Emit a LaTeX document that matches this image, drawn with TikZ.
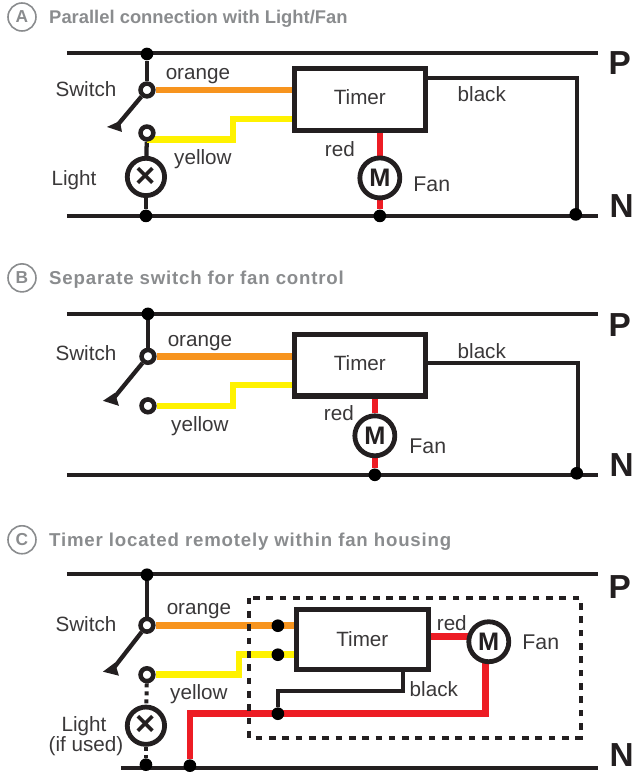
\documentclass[tikz,border=0pt]{standalone}
\usepackage{fontspec}
\setmainfont{Liberation Sans}
\usetikzlibrary{backgrounds,calc}
\definecolor{wireBlack}{HTML}{231F20}
\definecolor{wireOrange}{HTML}{F7941E}
\definecolor{wireYellow}{HTML}{FFF200}
\definecolor{wireRed}{HTML}{ED1C24}
\definecolor{headGray}{HTML}{8A8C8E}
\definecolor{textGray}{HTML}{3A3839}

\begin{document}
\begin{tikzpicture}[x=0.75pt,y=-0.75pt]
      \tikzstyle{every node} = [font=\fontsize{15.5}{18}\selectfont, text=textGray, inner sep=0pt]
      \tikzstyle{heading} = [font=\bfseries\fontsize{13.8}{15}\selectfont, text=headGray, anchor=west]
      \tikzstyle{headingwide} = [font=\bfseries\fontsize{14}{15}\selectfont\addfontfeature{LetterSpace=4.3}, text=headGray, anchor=west]
      \tikzstyle{badge} = [draw=headGray, circle, line width=1.2pt, minimum size=21pt, font=\bfseries\fontsize{13}{14}\selectfont, text=headGray]
      \tikzstyle{rail} = [draw=wireBlack, line width=3.2pt]
      \tikzstyle{blackwire} = [draw=wireBlack, line width=3.2pt]
      \tikzstyle{orangewire} = [draw=wireOrange, line width=5pt]
      \tikzstyle{yellowwire} = [draw=wireYellow, line width=5pt]
      \tikzstyle{redwire} = [draw=wireRed, line width=5pt]
      \tikzstyle{dot} = [fill=black, circle, minimum size=9.5pt]
      \tikzstyle{terminal} = [draw=wireBlack, fill=white, circle, line width=3.4pt, minimum size=9.6pt]
      \tikzstyle{lamp} = [draw=wireBlack, fill=white, circle, line width=3.6pt, minimum size=28pt, font=\bfseries\fontsize{26}{26}\selectfont, text=wireBlack]
      \tikzstyle{motor} = [draw=wireBlack, fill=white, circle, line width=3.6pt, minimum size=30pt, font=\bfseries\fontsize{19}{19}\selectfont, text=wireBlack]
      \tikzstyle{timer} = [draw=wireBlack, fill=white, rectangle, line width=3.8pt, minimum width=98.6pt, minimum height=46pt, text depth=3pt]
      \tikzstyle{supply} = [font=\bfseries\fontsize{25}{25}\selectfont, text=wireBlack]
      \tikzstyle{fantext} = [font=\fontsize{16}{18}\selectfont]
      \tikzstyle{lever} = [draw=wireBlack, line width=3.2pt]
      \tikzstyle{barb} = [fill=wireBlack]
      \tikzstyle{housing} = [draw=wireBlack, line width=3pt, dash pattern=on 5pt off 5pt]
      \tikzstyle{ifused} = [draw=wireBlack, line width=3pt, dash pattern=on 3pt off 3pt]
      % Panel A
      \node[badge](badgeA) at (22,17){A};
      \node[heading](headA) at (49,19){Parallel connection with Light/Fan};
      \coordinate (railPAw) at (67,53);
      \coordinate (railPAe) at (598,53);
      \coordinate (railNAw) at (67,216);
      \coordinate (railNAe) at (598,216);
      \node[dot](dotPA) at (147,54){};
      \node[dot](dotLightA) at (146,216){};
      \node[dot](dotFanA) at (380,216){};
      \node[dot](dotBlackA) at (576,214.5){};
      \node[terminal](swTopA) at (147,90){};
      \node[terminal](swLowA) at (147,133){};
      \node[lamp](lightA) at (146,177){×};
      \node[timer](timerA) at (360,99.5){Timer};
      \node[motor](fanA) at (380,178){M};
      \coordinate (kneeYellowA) at (233,119);
      \coordinate (kneeBlackA) at (577,78);
      \coordinate (leverEndA) at (116,127);
      \node[supply](supplyPA) at (620,63){P};
      \node[supply](supplyNA) at (622,206){N};
      \node(switchTextA) at (86,89){Switch};
      \node(lightTextA) at (74,180){Light};
      \node(orangeTextA) at (198,76){orange};
      \node(yellowTextA) at (203,159){yellow};
      \node(blackTextA) at (482,94){black};
      \node(redTextA) at (340,149){red};
      \node[fantext](fanTextA) at (432,184){Fan};
      % Connections
      \begin{pgfonlayer}{background}
        \path[rail] (railPAw) -- (railPAe);
        \path[rail] (railNAw) -- (railNAe);
        \path[blackwire] (dotPA) -- (swTopA);
        \path[blackwire] (swLowA) -- (lightA);
        \path[blackwire] (lightA) -- (dotLightA);
        \path[orangewire] (swTopA) -- (swTopA -| timerA.west);
        \path[yellowwire] (swLowA.center) ++(0,6.5) -| (kneeYellowA) -- (kneeYellowA -| timerA.west);
        \path[blackwire] (kneeBlackA -| timerA.east) -- (kneeBlackA) -- (kneeBlackA |- dotBlackA);
        \path[redwire] (fanA) -- (fanA |- timerA.south);
        \path[redwire] (fanA) -- (dotFanA);
      \end{pgfonlayer}
      \path[lever] (swTopA) -- (leverEndA);
      \fill[barb] (leverEndA) ++(-9,0) -- ++(13,-6) -- ++(2,11) -- cycle;
      % Panel B
      \node[badge](badgeB) at (22,278){B};
      \node[headingwide](headB) at (49,280){Separate switch for fan control};
      \coordinate (railPBw) at (67,314);
      \coordinate (railPBe) at (598,314);
      \coordinate (railNBw) at (67,475);
      \coordinate (railNBe) at (598,475);
      \node[dot](dotPB) at (148,314){};
      \node[dot](dotFanB) at (375,475){};
      \node[dot](dotBlackB) at (577,473.5){};
      \node[terminal](swTopB) at (148,356.5){};
      \node[terminal](swLowB) at (148,406){};
      \node[timer](timerB) at (360,365.5){Timer};
      \node[motor](fanB) at (375,436){M};
      \coordinate (kneeYellowB) at (233,385);
      \coordinate (kneeBlackB) at (578,363);
      \coordinate (leverEndB) at (114,398);
      \node[supply](supplyPB) at (620,325){P};
      \node[supply](supplyNB) at (622,465){N};
      \node(switchTextB) at (86,353){Switch};
      \node(orangeTextB) at (200,343){orange};
      \node(yellowTextB) at (200,426){yellow};
      \node(blackTextB) at (482,351){black};
      \node(redTextB) at (339,413){red};
      \node[fantext](fanTextB) at (428,446){Fan};
      % Connections
      \begin{pgfonlayer}{background}
        \path[rail] (railPBw) -- (railPBe);
        \path[rail] (railNBw) -- (railNBe);
        \path[blackwire] (dotPB) -- (swTopB);
        \path[orangewire] (swTopB) -- (swTopB -| timerB.west);
        \path[yellowwire] (swLowB) -| (kneeYellowB) -- (kneeYellowB -| timerB.west);
        \path[blackwire] (kneeBlackB -| timerB.east) -- (kneeBlackB) -- (kneeBlackB |- dotBlackB);
        \path[redwire] (fanB) -- (fanB |- timerB.south);
        \path[redwire] (fanB) -- (dotFanB);
      \end{pgfonlayer}
      \path[lever] (swTopB) -- (leverEndB);
      \fill[barb] (leverEndB) ++(-11,3) -- ++(12,-8) -- ++(4,13) -- cycle;
      % Panel C
      \node[badge](badgeC) at (22,540){C};
      \node[headingwide](headC) at (49,542){Timer located remotely within fan housing};
      \coordinate (railPCw) at (67,574);
      \coordinate (railPCe) at (598,574);
      \coordinate (railNCw) at (121,768);
      \coordinate (railNCe) at (598,768);
      \coordinate (housingNW) at (249,598);
      \coordinate (housingSE) at (581,738);
      \node[dot](dotPC) at (147,575){};
      \node[dot](dotLightC) at (146,765){};
      \node[dot](dotNeutralC) at (190,766){};
      \node[dot](dotOrangeC) at (278,626){};
      \node[dot](dotYellowC) at (278,655){};
      \node[dot](dotJoinC) at (278,714){};
      \node[terminal](swTopC) at (147,625.5){};
      \node[terminal](swLowC) at (147,675){};
      \node[lamp](lightC) at (146,726){×};
      \node[timer, minimum width=99pt, minimum height=45pt, text depth=0pt](timerC) at (362.5,639.5){Timer};
      \node[motor](fanC) at (489,642){M};
      \coordinate (kneeYellowC) at (239,655);
      \coordinate (kneeBlackC) at (403,691);
      \coordinate (kneeRedC) at (486,714);
      \coordinate (kneeNeutralC) at (190,714);
      \coordinate (redOutC) at (429,637);
      \coordinate (leverEndC) at (114,668);
      \node[supply](supplyPC) at (620,587){P};
      \node[supply](supplyNC) at (622,755){N};
      \node(switchTextC) at (86,624){Switch};
      \node(lightTextC) at (84,726){Light};
      \node(ifusedTextC) at (86,746){(if used)};
      \node(orangeTextC) at (199,611){orange};
      \node(yellowTextC) at (199,694){yellow};
      \node(blackTextC) at (434,689){black};
      \node(redTextC) at (452,623){red};
      \node[fantext](fanTextC) at (541,643){Fan};
      % Connections
      \begin{pgfonlayer}{background}
        \path[rail] (railPCw) -- (railPCe);
        \path[rail] (railNCw) -- (railNCe);
        \path[blackwire] (dotPC) -- (swTopC);
        \path[ifused] (swLowC) -- (lightC);
        \path[ifused] (lightC) -- (dotLightC);
        \path[orangewire] (swTopC) -- (swTopC -| timerC.west);
        \path[yellowwire] (swLowC) -| (kneeYellowC) -- (kneeYellowC -| timerC.west);
        \path[redwire] (dotNeutralC) -- (kneeNeutralC) -- (kneeRedC) -- (kneeRedC |- fanC);
        \path[redwire] (redOutC) -- (redOutC -| fanC);
        \path[blackwire] (kneeBlackC |- timerC.south) -- (kneeBlackC) -| (dotJoinC);
      \end{pgfonlayer}
      \path[lever] (swTopC) -- (leverEndC);
      \fill[barb] (leverEndC) ++(-11,4) -- ++(12,-9) -- ++(4,13) -- cycle;
      \draw[housing] (housingNW) rectangle (housingSE);
      \useasboundingbox (0,0) rectangle (637,772);
    \end{tikzpicture}
\end{document}
